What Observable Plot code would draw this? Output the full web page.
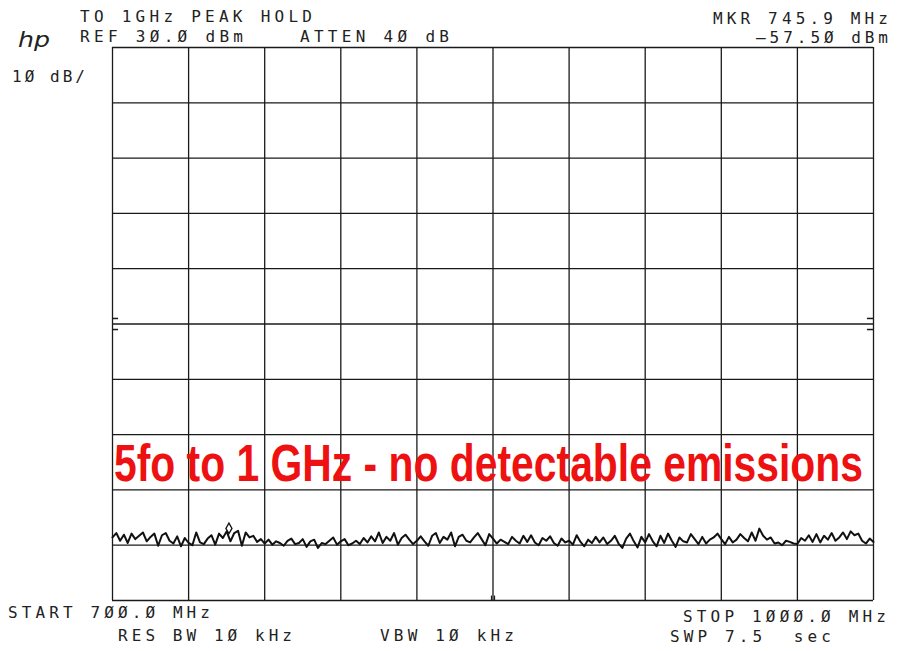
<!DOCTYPE html>
<html><head><meta charset="utf-8">
<script src="https://cdn.jsdelivr.net/npm/d3@7"></script>
<script src="https://cdn.jsdelivr.net/npm/@observablehq/plot@0.6"></script>
<style>
body{margin:0;background:#fff;}
#wrap{position:relative;width:900px;height:651px;overflow:hidden;background:#fff;}
</style></head><body><div id="wrap"></div>
<script>
// ---- data ----
const startMHz = 700, stopMHz = 1000;
const refDBm = 30, bottomDBm = -70;
const gridFreqs = [700, 730, 760, 790, 820, 850, 880, 910, 940, 970, 1000];
const gridLevels = [30, 20, 10, 0, -10, -20, -30, -40, -50, -60, -70];
// trace readings, 201 sweep points from START to STOP (dBm)
const traceLevels = [
 -58.6,-57.8,-59.2,-58.1,-59.6,-57.9,-58.9,-58.3,-57.7,-59.3,-58.5,-57.9,-60.1,-58.2,-57.8,-59.2,-59.7,-58.4,-60.2,-58.7,
 -59.6,-60.0,-57.7,-59.5,-59.8,-58.8,-58.2,-59.9,-57.9,-58.7,-57.5,-59.3,-57.8,-57.4,-60.1,-57.7,-58.6,-58.3,-59.4,-58.9,
 -59.7,-59.0,-59.9,-59.3,-59.6,-60.1,-59.2,-58.8,-59.8,-59.6,-58.9,-60.3,-59.3,-59.0,-60.5,-59.6,-59.8,-59.2,-58.6,-59.9,
 -59.3,-58.9,-60.0,-59.7,-59.2,-59.8,-58.7,-59.5,-58.4,-59.3,-57.7,-59.6,-58.5,-59.2,-57.8,-59.9,-58.7,-58.1,-59.0,-59.8,
 -59.2,-58.4,-59.3,-60.1,-58.3,-57.8,-59.6,-58.5,-59.0,-57.7,-60.2,-58.5,-58.1,-59.2,-59.5,-58.6,-57.8,-58.9,-60.0,-58.0,
 -58.8,-59.7,-59.0,-59.4,-59.8,-58.5,-59.2,-59.7,-58.3,-59.4,-58.2,-59.5,-60.0,-58.7,-59.2,-58.4,-59.6,-60.1,-58.8,-59.5,
 -59.2,-59.9,-58.2,-59.4,-60.2,-59.0,-59.6,-58.5,-59.5,-58.6,-59.8,-59.2,-58.3,-59.7,-60.5,-58.8,-57.9,-59.3,-60.4,-58.5,
 -59.5,-58.0,-59.3,-60.2,-58.3,-59.6,-57.9,-59.2,-60.3,-58.6,-59.3,-59.5,-58.0,-58.9,-59.8,-58.5,-59.7,-59.0,-58.6,-57.9,
 -58.9,-59.8,-58.5,-59.5,-59.0,-58.0,-58.7,-59.3,-57.7,-59.2,-57.0,-58.3,-59.0,-58.6,-59.7,-59.5,-60.0,-59.2,-59.4,-59.7,
 -59.8,-58.7,-59.2,-58.2,-59.4,-58.0,-59.5,-58.3,-59.0,-57.8,-59.2,-58.6,-57.7,-58.9,-57.5,-58.2,-57.9,-59.2,-59.7,-58.8,-59.4
];
const markerFreq = [745.9];
const markerLevel = [-57.5];
const refMarkLevels = [-19.0, -21.0];
const centerMarkFreqs = [849.4, 850.6];

// ---- texts ----
const headerTexts = ["TO 1GHz PEAK HOLD", "REF 3Ø.Ø dBm", "ATTEN 4Ø dB", "MKR 745.9 MHz", "–57.5Ø dBm", "1Ø dB/"];
const footerTexts = ["START 7ØØ.Ø MHz", "STOP 1ØØØ.Ø MHz", "RES BW 1Ø kHz", "VBW 1Ø kHz", "SWP 7.5  sec"];
const logoText = "hp";
const noteText = "5fo to 1 GHz - no detectable emissions";

// ---- build table ----
const n = traceLevels.length;
const trace = traceLevels.map((v, i) => ({f: startMHz + (stopMHz - startMHz) * i / (n - 1), v}));
const marker = markerFreq.map((f, i) => ({f, v: markerLevel[i]}));

const ink = "#1a1a1a";
const chart = Plot.plot({
  width: 900, height: 651,
  marginLeft: 112, marginRight: 27, marginTop: 47, marginBottom: 51,
  x: {domain: [startMHz, stopMHz], axis: null},
  y: {domain: [bottomDBm, refDBm], axis: null},
  style: {background: "#fff"},
  marks: [
    Plot.ruleX(gridFreqs, {stroke: ink, strokeWidth: 1.3}),
    Plot.ruleY(gridLevels, {stroke: ink, strokeWidth: 1.3}),
    Plot.ruleY(refMarkLevels, {x1: startMHz, x2: startMHz + 2.4, stroke: ink, strokeWidth: 1.5}),
    Plot.ruleY(refMarkLevels, {x1: stopMHz - 2.4, x2: stopMHz, stroke: ink, strokeWidth: 1.5}),
    Plot.ruleX(centerMarkFreqs, {y1: bottomDBm, y2: bottomDBm + 0.8, stroke: ink, strokeWidth: 1.2}),
    Plot.line(trace, {x: "f", y: "v", stroke: "#111", strokeWidth: 2}),
    Plot.dot(marker, {x: "f", y: "v", symbol: "diamond", r: 3.2, stroke: "#111", fill: "#fff", strokeWidth: 1.3, dy: -3})
  ]
});
document.getElementById("wrap").appendChild(chart);

// ---- annotations (plotter lettering) ----
const svg = d3.select(chart);
const g = svg.append("g").attr("font-family", "'DejaVu Sans Mono', monospace").attr("font-size", 16)
  .attr("fill", "#222").attr("text-anchor", "start");
const headerPos = [[80, 312, 22], [80, 243, 42], [300, 449, 42], [713, 888, 24], [756, 888, 43], [12, 85, 82]];
const footerPos = [[8, 210, 618], [683, 886, 622], [118, 292, 641], [380, 514, 641], [670, 831, 642]];
function put(text, [x0, x1, y]) {
  g.append("text").attr("x", x0).attr("y", y).attr("textLength", x1 - x0)
    .attr("lengthAdjust", "spacing").style("white-space", "pre").text(text);
}
headerTexts.forEach((t, i) => put(t, headerPos[i]));
footerTexts.forEach((t, i) => put(t, footerPos[i]));

svg.append("text").attr("x", 18).attr("y", 47).attr("text-anchor", "start").attr("textLength", 32).attr("lengthAdjust", "spacingAndGlyphs")
  .attr("font-family", "'DejaVu Sans', sans-serif").attr("font-style", "italic").attr("font-weight", 200)
  .attr("font-size", 22).attr("fill", "#222").text(logoText);

svg.append("text").attr("x", 114).attr("y", 481).attr("text-anchor", "start").attr("textLength", 749).attr("lengthAdjust", "spacingAndGlyphs")
  .attr("font-family", "'Liberation Sans Narrow', 'Liberation Sans', Arial, sans-serif").attr("font-weight", "bold")
  .attr("font-size", 52).attr("fill", "#ee1111").text(noteText);
</script>
</body></html>
